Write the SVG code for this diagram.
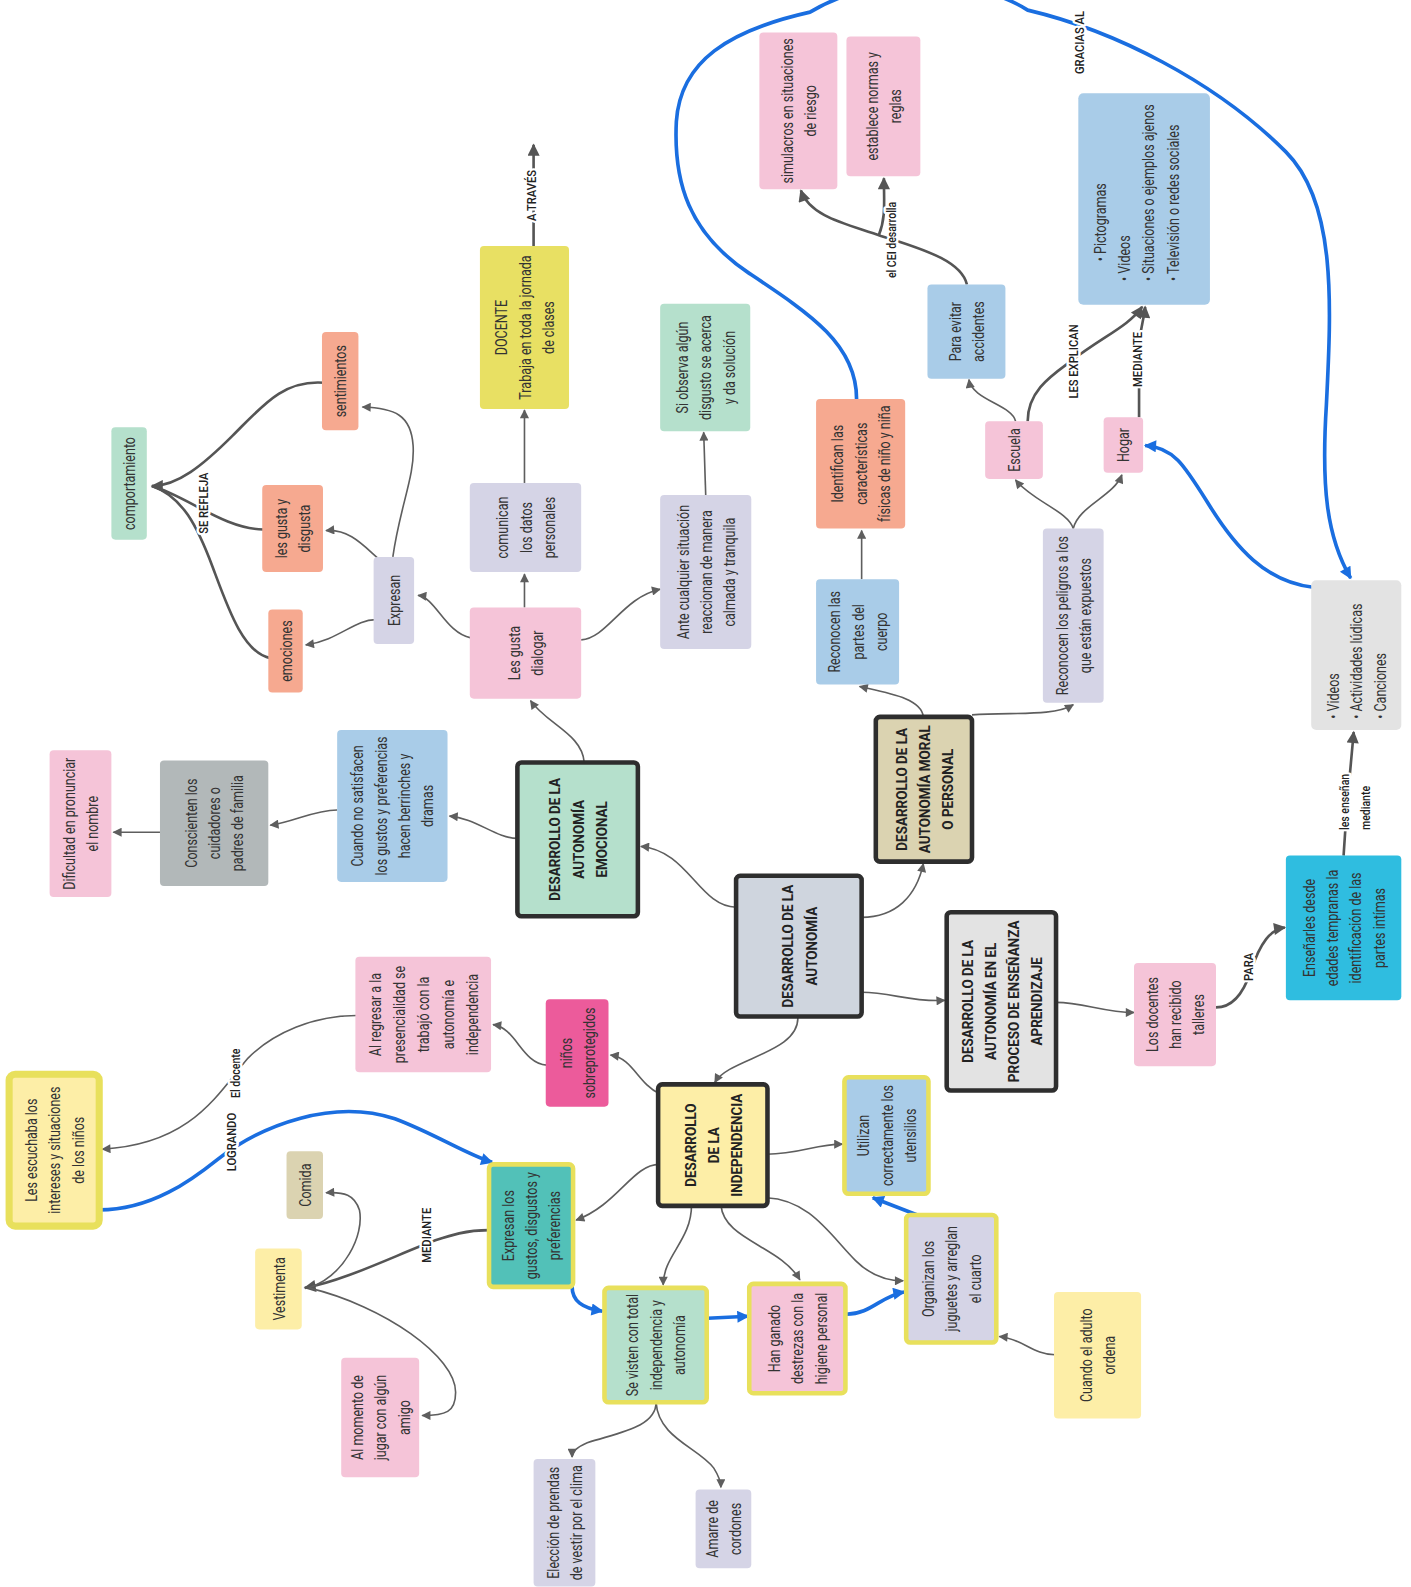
<svg xmlns="http://www.w3.org/2000/svg" width="1411" height="1587" viewBox="0 0 1411 1587">
<defs>
<style>
.t{font-family:Roboto,"Liberation Sans",sans-serif;font-size:16.5px;fill:#333;text-anchor:middle}
.b{font-family:Roboto,"Liberation Sans",sans-serif;font-size:15px;font-weight:bold;fill:#222;text-anchor:middle}
.s{text-anchor:start}
.l{font-family:Roboto,"Liberation Sans",sans-serif;font-size:13px;font-weight:500;fill:#222;text-anchor:middle;paint-order:stroke;stroke:#fff;stroke-width:5px;stroke-linejoin:round}
.c{fill:none;stroke:#5e5e5e;stroke-width:1.6}
.ck{fill:none;stroke:#555;stroke-width:2.6}
.bl{fill:none;stroke:#1a6ee0;stroke-width:3.6}
.k{stroke:#2e2e2e;stroke-width:4.5}
.y{stroke:#e8e05c;stroke-width:4.5}
</style>
<marker id="a" viewBox="0 0 10 10" refX="9" refY="5" markerWidth="12" markerHeight="9" markerUnits="userSpaceOnUse" orient="auto"><path d="M0,0L10,5L0,10z" fill="#5e5e5e"/></marker>
<marker id="ak" viewBox="0 0 10 10" refX="9" refY="5" markerWidth="16" markerHeight="12" markerUnits="userSpaceOnUse" orient="auto"><path d="M0,0L10,5L0,10z" fill="#555"/></marker>
<marker id="ab" viewBox="0 0 10 10" refX="9" refY="5" markerWidth="17" markerHeight="12" markerUnits="userSpaceOnUse" orient="auto"><path d="M0,0L10,5L0,10z" fill="#1a6ee0"/></marker>
</defs>
<rect width="1411" height="1587" fill="#fff"/>
<g id="diagram" transform="scale(1.0125)">
<g id="connectors">
<path class="c" d="M371,612 C350,612 335,632 302,637" marker-end="url(#a)"/>
<path class="c" d="M374,552 C360,540 345,522 322,524" marker-end="url(#a)"/>
<path class="c" d="M388,550 C395,500 410,470 408,440 C406,410 390,403 358,402" marker-end="url(#a)"/>
<path class="ck" d="M320,378 C280,375 260,400 230,430 C200,460 175,480 150,480" marker-end="url(#ak)"/>
<path class="ck" d="M260,523 C220,522 185,490 150,480"/>
<path class="ck" d="M267,650 C240,645 225,600 210,560 C195,520 180,490 150,480"/>
<path class="c" d="M465,630 C440,625 430,590 413,588" marker-end="url(#a)"/>
<path class="c" d="M518,600 L518,567" marker-end="url(#a)"/>
<path class="c" d="M518,477 L518,405" marker-end="url(#a)"/>
<path class="ck" d="M527,243 L527,143" marker-end="url(#ak)"/>
<path class="c" d="M574,632 C600,630 615,590 652,582" marker-end="url(#a)"/>
<path class="c" d="M697,489 L695,427" marker-end="url(#a)"/>
<path class="c" d="M577,753 C575,725 540,715 524,692" marker-end="url(#a)"/>
<path class="c" d="M727,896 C690,895 680,840 633,836" marker-end="url(#a)"/>
<path class="c" d="M511,828 C490,828 470,808 444,806" marker-end="url(#a)"/>
<path class="c" d="M333,800 C310,800 290,812 267,815" marker-end="url(#a)"/>
<path class="c" d="M158,822 L112,822" marker-end="url(#a)"/>
<path class="c" d="M851,906 C885,906 905,885 912,853" marker-end="url(#a)"/>
<path class="c" d="M912,708 C910,690 880,685 849,678" marker-end="url(#a)"/>
<path class="c" d="M960,706 C1000,703 1040,708 1060,696" marker-end="url(#a)"/>
<path class="c" d="M851,572 L851,524" marker-end="url(#a)"/>
<path class="c" d="M1060,522 C1055,505 1020,495 1003,474" marker-end="url(#a)"/>
<path class="c" d="M1060,522 C1065,500 1100,490 1108,469" marker-end="url(#a)"/>
<path class="c" d="M1003,416 C1000,400 960,395 957,375" marker-end="url(#a)"/>
<path class="ck" d="M1015,416 C1015,385 1040,370 1060,355 C1090,332 1115,322 1128,303" marker-end="url(#ak)"/>
<path class="ck" d="M1125,412 L1125,340 C1127,320 1130,315 1131,303" marker-end="url(#ak)"/>
<path class="ck" d="M955,281 C950,260 920,248 870,233 C840,222 800,215 791,188" marker-end="url(#ak)"/>
<path class="ck" d="M868,232 C875,215 873,200 873,176" marker-end="url(#ak)"/>
<path class="ck" d="M1327,845 L1330,800 L1337,723" marker-end="url(#ak)"/>
<path class="c" d="M851,980 C880,980 900,990 933,988" marker-end="url(#a)"/>
<path class="c" d="M1043,990 C1070,990 1090,1000 1120,1000" marker-end="url(#a)"/>
<path class="ck" d="M1201,995 C1220,995 1230,975 1235,960 C1245,930 1255,918 1269,916" marker-end="url(#ak)"/>
<path class="c" d="M788,1004 C790,1040 720,1045 706,1069" marker-end="url(#a)"/>
<path class="c" d="M651,1080 C630,1070 625,1045 603,1042" marker-end="url(#a)"/>
<path class="c" d="M540,1052 C515,1050 510,1015 487,1012" marker-end="url(#a)"/>
<path class="c" d="M352,1003 C310,1003 270,1020 245,1045 C215,1080 190,1130 101,1135" marker-end="url(#a)"/>
<path class="c" d="M651,1150 C625,1150 610,1190 569,1205" marker-end="url(#a)"/>
<path class="ck" d="M483,1215 C460,1215 445,1220 430,1225 C390,1240 340,1265 301,1272" marker-end="url(#ak)"/>
<path class="c" d="M305,1272 C340,1260 360,1220 355,1195 C350,1180 340,1177 322,1178" marker-end="url(#a)"/>
<path class="c" d="M305,1272 C380,1290 450,1340 450,1375 C450,1395 440,1398 417,1398" marker-end="url(#a)"/>
<path class="c" d="M683,1190 C683,1225 655,1240 655,1269" marker-end="url(#a)"/>
<path class="c" d="M712,1190 C715,1225 770,1230 790,1264" marker-end="url(#a)"/>
<path class="c" d="M757,1140 C790,1140 805,1130 832,1130" marker-end="url(#a)"/>
<path class="c" d="M757,1183 C800,1185 820,1220 845,1245 C860,1260 875,1265 892,1265" marker-end="url(#a)"/>
<path class="c" d="M1042,1338 C1020,1338 1010,1322 987,1320" marker-end="url(#a)"/>
<path class="c" d="M648,1385 C648,1410 610,1415 580,1425 C568,1430 565,1435 565,1439" marker-end="url(#a)"/>
<path class="c" d="M648,1385 C650,1420 690,1430 705,1450 C710,1458 712,1463 712,1469" marker-end="url(#a)"/>
<path class="bl" d="M846,394 C846,340 800,310 740,270 C680,230 665,180 668,120 C672,60 720,30 800,12 C860,-25 960,-25 1015,10 C1100,30 1200,80 1270,150 C1320,200 1315,300 1310,400 C1305,480 1310,530 1334,571" marker-end="url(#ab)"/>
<path class="bl" d="M1297,580 C1250,575 1220,540 1195,500 C1170,460 1160,442 1131,440" marker-end="url(#ab)"/>
<path class="bl" d="M98,1195 C150,1195 190,1165 215,1145 C260,1110 330,1085 390,1105 C430,1120 460,1140 486,1148" marker-end="url(#ab)"/>
<path class="bl" d="M565,1270 C565,1285 575,1292 595,1295" marker-end="url(#ab)"/>
<path class="bl" d="M699,1302 L739,1300" marker-end="url(#ab)"/>
<path class="bl" d="M836,1298 C860,1298 870,1280 893,1276" marker-end="url(#ab)"/>
<path class="bl" d="M906,1200 L862,1183" marker-end="url(#ab)"/>
<text class="l" transform="translate(205,497) rotate(-90) scale(0.85,1)">SE REFLEJA</text>
<text class="l" transform="translate(529,193) rotate(-90) scale(0.85,1)">A TRAVÉS</text>
<text class="l" transform="translate(885,237) rotate(-90) scale(0.8,1)">el CEI desarrolla</text>
<text class="l" transform="translate(1065,357) rotate(-90) scale(0.85,1)">LES EXPLICAN</text>
<text class="l" transform="translate(1128,355) rotate(-90) scale(0.85,1)">MEDIANTE</text>
<text class="l" transform="translate(1071,42) rotate(-90) scale(0.85,1)">GRACIAS AL</text>
<text class="l" transform="translate(1332,792) rotate(-90) scale(0.8,1)">les enseñan</text>
<text class="l" transform="translate(1353,798) rotate(-90) scale(0.8,1)">mediante</text>
<text class="l" transform="translate(1238,955) rotate(-90) scale(0.85,1)">PARA</text>
<text class="l" transform="translate(237,1060) rotate(-90) scale(0.8,1)">El docente</text>
<text class="l" transform="translate(233,1128) rotate(-90) scale(0.85,1)">LOGRANDO</text>
<text class="l" transform="translate(426,1220) rotate(-90) scale(0.85,1)">MEDIANTE</text>
</g>

<g id="comportamiento"><rect x="110" y="422" width="35" height="111" rx="4" fill="#b5e0cc"/><text class="t" transform="translate(127.5,477.5) rotate(-90) scale(0.75,1)"><tspan x="0" y="6">comportamiento</tspan></text></g>
<g id="sentimientos"><rect x="318" y="328" width="36" height="97" rx="4" fill="#f6a990"/><text class="t" transform="translate(336,376.5) rotate(-90) scale(0.75,1)"><tspan x="0" y="6">sentimientos</tspan></text></g>
<g id="gusta"><rect x="259" y="479" width="60" height="86" rx="4" fill="#f6a990"/><text class="t" transform="translate(289,522) rotate(-90) scale(0.75,1)"><tspan x="0" y="-5.5">les gusta y</tspan><tspan x="0" y="17.5">disgusta</tspan></text></g>
<g id="emociones"><rect x="265" y="602" width="34" height="82" rx="4" fill="#f6a990"/><text class="t" transform="translate(282,643) rotate(-90) scale(0.75,1)"><tspan x="0" y="6">emociones</tspan></text></g>
<g id="expresan"><rect x="369" y="550" width="40" height="86" rx="4" fill="#d5d4e6"/><text class="t" transform="translate(389,593) rotate(-90) scale(0.75,1)"><tspan x="0" y="6">Expresan</tspan></text></g>
<g id="dialogar"><rect x="464" y="600" width="110" height="90" rx="4" fill="#f5c4d8"/><text class="t" transform="translate(519,645) rotate(-90) scale(0.75,1)"><tspan x="0" y="-5.5">Les gusta</tspan><tspan x="0" y="17.5">dialogar</tspan></text></g>
<g id="comunican"><rect x="464" y="477" width="110" height="88" rx="4" fill="#d5d4e6"/><text class="t" transform="translate(519,521) rotate(-90) scale(0.75,1)"><tspan x="0" y="-17">comunican</tspan><tspan x="0" y="6">los datos</tspan><tspan x="0" y="29">personales</tspan></text></g>
<g id="docente"><rect x="474" y="243" width="88" height="161" rx="4" fill="#e8e063"/><text class="t" transform="translate(518,323.5) rotate(-90) scale(0.75,1)"><tspan x="0" y="-17">DOCENTE</tspan><tspan x="0" y="6">Trabaja en toda la jornada</tspan><tspan x="0" y="29">de clases</tspan></text></g>
<g id="ante"><rect x="652" y="489" width="90" height="152" rx="4" fill="#d5d4e6"/><text class="t" transform="translate(697,565) rotate(-90) scale(0.75,1)"><tspan x="0" y="-17">Ante cualquier situación</tspan><tspan x="0" y="6">reaccionan de manera</tspan><tspan x="0" y="29">calmada y tranquila</tspan></text></g>
<g id="siobserva"><rect x="652" y="300" width="89" height="126" rx="4" fill="#b5e0cc"/><text class="t" transform="translate(696.5,363) rotate(-90) scale(0.75,1)"><tspan x="0" y="-17">Si observa algún</tspan><tspan x="0" y="6">disgusto se acerca</tspan><tspan x="0" y="29">y da solución</tspan></text></g>
<g id="identifican"><rect x="806" y="394" width="88" height="128" rx="4" fill="#f6a990"/><text class="t" transform="translate(850,458) rotate(-90) scale(0.75,1)"><tspan x="0" y="-17">Identifican las</tspan><tspan x="0" y="6">características</tspan><tspan x="0" y="29">físicas de niño y niña</tspan></text></g>
<g id="partes"><rect x="806" y="572" width="82" height="104" rx="4" fill="#a9cce8"/><text class="t" transform="translate(847,624) rotate(-90) scale(0.75,1)"><tspan x="0" y="-17">Reconocen las</tspan><tspan x="0" y="6">partes del</tspan><tspan x="0" y="29">cuerpo</tspan></text></g>
<g id="simulacros"><rect x="750" y="32" width="77" height="155" rx="4" fill="#f5c4d8"/><text class="t" transform="translate(788.5,109.5) rotate(-90) scale(0.75,1)"><tspan x="0" y="-5.5">simulacros en situaciones</tspan><tspan x="0" y="17.5">de riesgo</tspan></text></g>
<g id="establece"><rect x="836" y="36" width="73" height="138" rx="4" fill="#f5c4d8"/><text class="t" transform="translate(872.5,105) rotate(-90) scale(0.75,1)"><tspan x="0" y="-5.5">establece normas y</tspan><tspan x="0" y="17.5">reglas</tspan></text></g>
<g id="paraevitar"><rect x="916" y="281" width="77" height="93" rx="4" fill="#a9cce8"/><text class="t" transform="translate(954.5,327.5) rotate(-90) scale(0.75,1)"><tspan x="0" y="-5.5">Para evitar</tspan><tspan x="0" y="17.5">accidentes</tspan></text></g>
<g id="escuela"><rect x="973" y="416" width="57" height="57" rx="4" fill="#f5c4d8"/><text class="t" transform="translate(1001.5,444.5) rotate(-90) scale(0.75,1)"><tspan x="0" y="6">Escuela</tspan></text></g>
<g id="hogar"><rect x="1090" y="412" width="39" height="55" rx="4" fill="#f5c4d8"/><text class="t" transform="translate(1109.5,439.5) rotate(-90) scale(0.75,1)"><tspan x="0" y="6">Hogar</tspan></text></g>
<g id="pictogramas"><rect x="1065" y="92" width="130" height="209" rx="5" fill="#a9cce8"/><text class="t s" transform="translate(1130,196.5) rotate(-90) scale(0.75,1)"><tspan x="-82" y="-38">• Pictogramas</tspan><tspan x="-108" y="-14">• Videos</tspan><tspan x="-108" y="10">• Situaciones o ejemplos ajenos</tspan><tspan x="-108" y="34">• Televisión o redes sociales</tspan></text></g>
<g id="peligros"><rect x="1030" y="522" width="60" height="172" rx="4" fill="#d5d4e6"/><text class="t" transform="translate(1060,608) rotate(-90) scale(0.75,1)"><tspan x="0" y="-5.5">Reconocen los peligros a los</tspan><tspan x="0" y="17.5">que están expuestos</tspan></text></g>
<g id="videos"><rect x="1295" y="573" width="89" height="148" rx="5" fill="#e3e3e3"/><text class="t s" transform="translate(1339.5,647) rotate(-90) scale(0.75,1)"><tspan x="-84" y="-17">• Videos</tspan><tspan x="-84" y="6">• Actividades lúdicas</tspan><tspan x="-84" y="29">• Canciones</tspan></text></g>
<g id="moral"><rect x="865" y="708" width="95" height="143" rx="4" fill="#dbd3b1" class="k"/><text class="b" transform="translate(912.5,779.5) rotate(-90) scale(0.885,1)"><tspan x="0" y="-17">DESARROLLO DE LA</tspan><tspan x="0" y="6">AUTONOMÍA MORAL</tspan><tspan x="0" y="29">O PERSONAL</tspan></text></g>
<g id="emocional"><rect x="511" y="753" width="119" height="152" rx="4" fill="#b5e0cc" class="k"/><text class="b" transform="translate(570.5,829) rotate(-90) scale(0.885,1)"><tspan x="0" y="-17">DESARROLLO DE LA</tspan><tspan x="0" y="6">AUTONOMÍA</tspan><tspan x="0" y="29">EMOCIONAL</tspan></text></g>
<g id="autonomia"><rect x="727" y="865" width="124" height="139" rx="4" fill="#cfd5de" class="k"/><text class="b" transform="translate(789,934.5) rotate(-90) scale(0.885,1)"><tspan x="0" y="-5.5">DESARROLLO DE LA</tspan><tspan x="0" y="17.5">AUTONOMÍA</tspan></text></g>
<g id="ensenanza"><rect x="935" y="901" width="108" height="176" rx="4" fill="#e3e3e3" class="k"/><text class="b" transform="translate(989,989) rotate(-90) scale(0.885,1)"><tspan x="0" y="-28.5">DESARROLLO DE LA</tspan><tspan x="0" y="-5.5">AUTONOMÍA EN EL</tspan><tspan x="0" y="17.5">PROCESO DE ENSEÑANZA</tspan><tspan x="0" y="40.5">APRENDIZAJE</tspan></text></g>
<g id="docentes"><rect x="1120" y="951" width="81" height="102" rx="4" fill="#f5c4d8"/><text class="t" transform="translate(1160.5,1002) rotate(-90) scale(0.75,1)"><tspan x="0" y="-17">Los docentes</tspan><tspan x="0" y="6">han recibido</tspan><tspan x="0" y="29">talleres</tspan></text></g>
<g id="ensenarles"><rect x="1270" y="845" width="114" height="143" rx="4" fill="#2fbde0"/><text class="t" transform="translate(1327,916.5) rotate(-90) scale(0.75,1)"><tspan x="0" y="-28.5">Enseñarles desde</tspan><tspan x="0" y="-5.5">edades tempranas la</tspan><tspan x="0" y="17.5">identificación de las</tspan><tspan x="0" y="40.5">partes intímas</tspan></text></g>
<g id="cuandono"><rect x="333" y="721" width="109" height="150" rx="4" fill="#a9cce8"/><text class="t" transform="translate(387.5,796) rotate(-90) scale(0.75,1)"><tspan x="0" y="-28.5">Cuando no satisfacen</tspan><tspan x="0" y="-5.5">los gustos y preferencias</tspan><tspan x="0" y="17.5">hacen berrinches y</tspan><tspan x="0" y="40.5">dramas</tspan></text></g>
<g id="conscienten"><rect x="158" y="751" width="107" height="124" rx="4" fill="#b2b8b9"/><text class="t" transform="translate(211.5,813) rotate(-90) scale(0.75,1)"><tspan x="0" y="-17">Conscienten los</tspan><tspan x="0" y="6">cuidadores o</tspan><tspan x="0" y="29">padres de familia</tspan></text></g>
<g id="dificultad"><rect x="49" y="741" width="61" height="145" rx="4" fill="#f5c4d8"/><text class="t" transform="translate(79.5,813.5) rotate(-90) scale(0.75,1)"><tspan x="0" y="-5.5">Dificultad en pronunciar</tspan><tspan x="0" y="17.5">el nombre</tspan></text></g>
<g id="alregresar"><rect x="351" y="945" width="134" height="114" rx="4" fill="#f5c4d8"/><text class="t" transform="translate(418,1002) rotate(-90) scale(0.75,1)"><tspan x="0" y="-42">Al regresar a la</tspan><tspan x="0" y="-18">presencialidad se</tspan><tspan x="0" y="6">trabajó con la</tspan><tspan x="0" y="30">autonomía e</tspan><tspan x="0" y="54">independencia</tspan></text></g>
<g id="sobreprotegidos"><rect x="539" y="987" width="62" height="106" rx="4" fill="#ec5b9b"/><text class="t" transform="translate(570,1040) rotate(-90) scale(0.75,1)"><tspan x="0" y="-5.5">niños</tspan><tspan x="0" y="17.5">sobreprotegidos</tspan></text></g>
<g id="independencia"><rect x="650" y="1071" width="108" height="120" rx="4" fill="#fdeea7" class="k"/><text class="b" transform="translate(704,1131) rotate(-90) scale(0.885,1)"><tspan x="0" y="-17">DESARROLLO</tspan><tspan x="0" y="6">DE LA</tspan><tspan x="0" y="29">INDEPENDENCIA</tspan></text></g>
<g id="utilizan"><rect x="834" y="1064" width="83" height="115" rx="4" fill="#a9cce8" class="y"/><text class="t" transform="translate(875.5,1121.5) rotate(-90) scale(0.75,1)"><tspan x="0" y="-17">Utilizan</tspan><tspan x="0" y="6">correctamente los</tspan><tspan x="0" y="29">utensilios</tspan></text></g>
<g id="escuchaba"><rect x="9" y="1061" width="89" height="150" rx="6" fill="#fdeea7" stroke="#e8e05c" stroke-width="7"/><text class="t" transform="translate(53.5,1136) rotate(-90) scale(0.75,1)"><tspan x="0" y="-17">Les escuchaba los</tspan><tspan x="0" y="6">intereses y situaciones</tspan><tspan x="0" y="29">de los niños</tspan></text></g>
<g id="comida"><rect x="283" y="1137" width="36" height="67" rx="4" fill="#dbd3b1"/><text class="t" transform="translate(301,1170.5) rotate(-90) scale(0.75,1)"><tspan x="0" y="6">Comida</tspan></text></g>
<g id="vestimenta"><rect x="252" y="1233" width="46" height="80" rx="4" fill="#fdeea7"/><text class="t" transform="translate(275,1273) rotate(-90) scale(0.75,1)"><tspan x="0" y="6">Vestimenta</tspan></text></g>
<g id="almomento"><rect x="337" y="1341" width="77" height="118" rx="4" fill="#f5c4d8"/><text class="t" transform="translate(375.5,1400) rotate(-90) scale(0.75,1)"><tspan x="0" y="-17">Al momento de</tspan><tspan x="0" y="6">jugar con algún</tspan><tspan x="0" y="29">amigo</tspan></text></g>
<g id="expresangustos"><rect x="483" y="1150" width="83" height="121" rx="4" fill="#52c1b8" class="y"/><text class="t" transform="translate(524.5,1210.5) rotate(-90) scale(0.75,1)"><tspan x="0" y="-17">Expresan los</tspan><tspan x="0" y="6">gustos, disgustos y</tspan><tspan x="0" y="29">preferencias</tspan></text></g>
<g id="sevisten"><rect x="597" y="1272" width="101" height="113" rx="4" fill="#b5e0cc" class="y"/><text class="t" transform="translate(647.5,1328.5) rotate(-90) scale(0.75,1)"><tspan x="0" y="-17">Se visten con total</tspan><tspan x="0" y="6">independencia y</tspan><tspan x="0" y="29">autonomía</tspan></text></g>
<g id="hanganado"><rect x="740" y="1268" width="95" height="108" rx="4" fill="#f5c4d8" class="y"/><text class="t" transform="translate(787.5,1322) rotate(-90) scale(0.75,1)"><tspan x="0" y="-17">Han ganado</tspan><tspan x="0" y="6">destrezas con la</tspan><tspan x="0" y="29">higiene personal</tspan></text></g>
<g id="organizan"><rect x="895" y="1200" width="89" height="126" rx="4" fill="#d5d4e6" class="y"/><text class="t" transform="translate(939.5,1263) rotate(-90) scale(0.75,1)"><tspan x="0" y="-17">Organizan los</tspan><tspan x="0" y="6">juguetes y arreglan</tspan><tspan x="0" y="29">el cuarto</tspan></text></g>
<g id="cuandoadulto"><rect x="1041" y="1276" width="86" height="125" rx="4" fill="#fdeea7"/><text class="t" transform="translate(1084,1338.5) rotate(-90) scale(0.75,1)"><tspan x="0" y="-5.5">Cuando el adulto</tspan><tspan x="0" y="17.5">ordena</tspan></text></g>
<g id="eleccion"><rect x="527" y="1441" width="61" height="126" rx="4" fill="#d5d4e6"/><text class="t" transform="translate(557.5,1504) rotate(-90) scale(0.75,1)"><tspan x="0" y="-5.5">Elección de prendas</tspan><tspan x="0" y="17.5">de vestir por el clima</tspan></text></g>
<g id="amarre"><rect x="687" y="1471" width="55" height="78" rx="4" fill="#d5d4e6"/><text class="t" transform="translate(714.5,1510) rotate(-90) scale(0.75,1)"><tspan x="0" y="-5.5">Amarre de</tspan><tspan x="0" y="17.5">cordones</tspan></text></g>
</g>
</svg>
